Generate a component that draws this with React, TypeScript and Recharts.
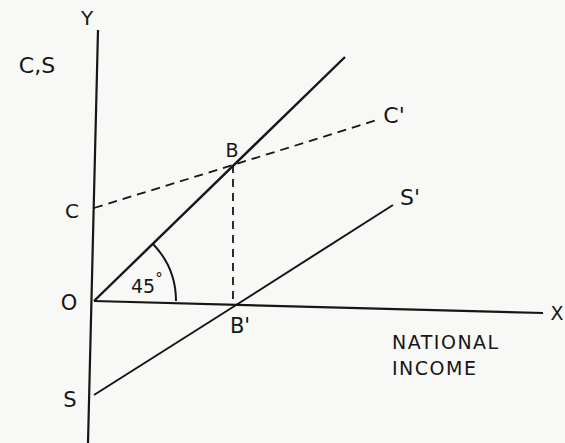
import React from 'react';
import { ComposedChart, Line, Scatter, XAxis, YAxis, ReferenceDot } from 'recharts';

// Axes, drawn by hand in the source, so they lean a little
const yAxisLine = [
    { x: 0.4, y: 27.1 },
    { x: -0.6, y: -14.2 },
];
const xAxisLine = [
    { x: 0, y: 0 },
    { x: 44.9, y: -1.2 },
];

// 45 degree line (income = expenditure)
const line45 = [
    { x: 0, y: 0 },
    { x: 25.1, y: 24.4 },
];

// Consumption function C -> C'
const consumption = [
    { x: 0, y: 9.3 },
    { x: 13.9, y: 13.6 },
    { x: 28.3, y: 18.1 },
];

// Saving function S -> S'
const saving = [
    { x: 0, y: -9.4 },
    { x: 13.9, y: -0.6 },
    { x: 29.9, y: 9.6 },
];

// B down to B'
const dropLine = [
    { x: 13.9, y: 13.6 },
    { x: 13.9, y: -0.4 },
];

const labels = [
    { x: -0.7, y: 28.3, text: 'Y', anchor: 'middle', size: 20 },
    { x: -5.7, y: 23.6, text: 'C,S', anchor: 'middle', size: 22 },
    { x: 13.8, y: 15.1, text: 'B', anchor: 'middle', size: 19 },
    { x: -2.2, y: 9.0, text: 'C', anchor: 'middle', size: 20 },
    { x: 30.0, y: 18.6, text: "C'", anchor: 'middle', size: 22 },
    { x: 31.6, y: 10.4, text: "S'", anchor: 'middle', size: 22 },
    { x: -2.5, y: -0.2, text: 'O', anchor: 'middle', size: 21 },
    { x: 3.7, y: 1.5, text: '45', sup: '°', anchor: 'start', size: 19 },
    { x: 46.3, y: -1.2, text: 'X', anchor: 'middle', size: 19 },
    { x: 14.6, y: -2.5, text: "B'", anchor: 'middle', size: 21 },
    { x: 29.8, y: -4.1, text: 'NATIONAL', anchor: 'start', size: 19 },
    { x: 29.8, y: -6.7, text: 'INCOME', anchor: 'start', size: 19 },
    { x: -2.4, y: -9.9, text: 'S', anchor: 'middle', size: 21 },
];

const INK = '#161616';

const LabelText = (props: any) => {
    const { cx, cy, payload } = props;
    return (
        <text
            x={cx}
            y={cy}
            textAnchor={payload.anchor}
            dominantBaseline="central"
            fontFamily="DejaVu Sans, sans-serif"
            fontSize={payload.size}
            letterSpacing={payload.text.length > 3 ? 1.5 : 0}
            fill={INK}
        >
            {payload.text}
            {payload.sup && (
                <tspan dx={0} dy={-7} fontSize={15}>
                    {payload.sup}
                </tspan>
            )}
        </text>
    );
};

// angle mark between the x axis and the 45 degree line
const AngleArc = (props: any) => {
    const { cx, cy } = props;
    const r = 82;
    const ex = cx + r * Math.cos((44 * Math.PI) / 180);
    const ey = cy - r * Math.sin((44 * Math.PI) / 180);
    return <path d={`M ${cx + r} ${cy} A ${r} ${r} 0 0 0 ${ex} ${ey}`} fill="none" stroke={INK} strokeWidth={2} />;
};

export default function App() {
    return (
        <div style={{ position: 'absolute', left: 0, top: 0, width: 565, height: 443, background: '#f8f8f6' }}>
            <ComposedChart width={565} height={443} margin={{ top: 0, right: 0, bottom: 0, left: 0 }}>
                <XAxis type="number" dataKey="x" domain={[-9.4, 47.1]} hide allowDataOverflow />
                <YAxis type="number" dataKey="y" domain={[-14.2, 30.1]} hide allowDataOverflow />

                <Line data={yAxisLine} dataKey="y" stroke={INK} strokeWidth={2.2} dot={false} isAnimationActive={false} />
                <Line data={xAxisLine} dataKey="y" stroke={INK} strokeWidth={2.2} dot={false} isAnimationActive={false} />
                <Line data={line45} dataKey="y" stroke={INK} strokeWidth={2.4} dot={false} isAnimationActive={false} />
                <Line
                    data={consumption}
                    dataKey="y"
                    stroke={INK}
                    strokeWidth={1.8}
                    strokeDasharray="9 6"
                    dot={false}
                    isAnimationActive={false}
                />
                <Line data={saving} dataKey="y" stroke={INK} strokeWidth={2} dot={false} isAnimationActive={false} />
                <Line
                    data={dropLine}
                    dataKey="y"
                    stroke={INK}
                    strokeWidth={1.8}
                    strokeDasharray="8 6"
                    dot={false}
                    isAnimationActive={false}
                />

                <ReferenceDot x={0} y={0} r={0} shape={<AngleArc />} />

                <Scatter data={labels} dataKey="y" shape={<LabelText />} isAnimationActive={false} />
            </ComposedChart>
        </div>
    );
}
